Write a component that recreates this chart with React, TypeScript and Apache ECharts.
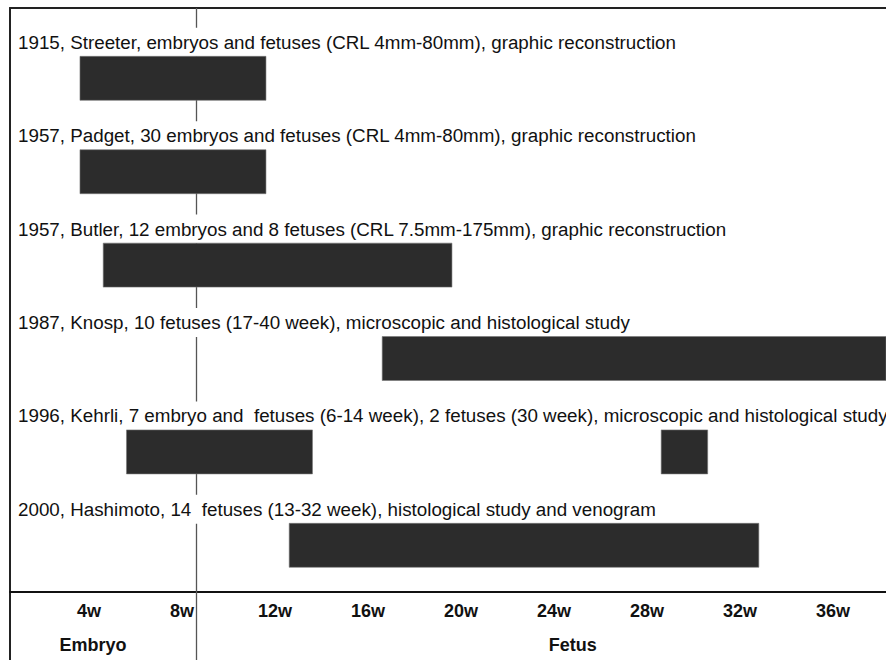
import React, { useEffect, useRef } from "react";
import * as echarts from "echarts";

// Study labels, top to bottom
const studyLabels: string[] = [
  "1915, Streeter, embryos and fetuses (CRL 4mm-80mm), graphic reconstruction",
  "1957, Padget, 30 embryos and fetuses (CRL 4mm-80mm), graphic reconstruction",
  "1957, Butler, 12 embryos and 8 fetuses (CRL 7.5mm-175mm), graphic reconstruction",
  "1987, Knosp, 10 fetuses (17-40 week), microscopic and histological study",
  "1996, Kehrli, 7 embryo and  fetuses (6-14 week), 2 fetuses (30 week), microscopic and histological study",
  "2000, Hashimoto, 14  fetuses (13-32 week), histological study and venogram",
];

// Bars: study row index, start week, end week
const barRows: number[] = [0, 1, 2, 3, 4, 4, 5];
const barStarts: number[] = [4, 4, 5, 17, 6, 29, 13];
const barEnds: number[] = [12, 12, 20, 40, 14, 31, 33.2];

// Axis ticks (weeks)
const tickWeeks: number[] = [4, 8, 12, 16, 20, 24, 28, 32, 36];
const dividerWeek = 9;

// Period labels
const periodNames: string[] = ["Embryo", "Fetus"];
const periodWeeks: number[] = [4.56, 25.2];

const FONT = "'Liberation Sans', Arial, Helvetica, sans-serif";
const nRows = studyLabels.length;
const rowY = (i: number) => nRows - 0.5 - i;
const X_MIN = 0.99;
const X_MAX = 38.67;

export default function App() {
  const ref = useRef<HTMLDivElement>(null);
  useEffect(() => {
    if (!ref.current) return;
    const chart = echarts.init(ref.current, undefined, { renderer: "svg" });
    const barData = barRows.map((r, i) => [barStarts[i], barEnds[i], rowY(r)]);
    const labelData = studyLabels.map((t, i) => [1, rowY(i), t]);
    const periodData = periodNames.map((t, i) => [periodWeeks[i], -0.567, t]);

    chart.setOption({
      animation: false,
      backgroundColor: "#ffffff",
      grid: {
        left: 10,
        right: 0,
        top: 8,
        bottom: 0,
        show: false,
        containLabel: false,
        outerBoundsMode: "none",
      },
      xAxis: [
        {
          type: "value",
          position: "bottom",
          offset: -68,
          min: X_MIN,
          max: X_MAX,
          axisLine: { show: true, onZero: false, lineStyle: { color: "#111", width: 2 } },
          axisTick: { show: false },
          splitLine: { show: false },
          axisLabel: {
            customValues: tickWeeks,
            formatter: (v: number) => `${v}w`,
            color: "#111",
            fontWeight: "bold",
            fontSize: 18,
            fontFamily: FONT,
            margin: 10,
            padding: [0, 0, 0, 18],
          },
        },
        {
          type: "value",
          position: "top",
          min: X_MIN,
          max: X_MAX,
          axisLine: { show: true, onZero: false, lineStyle: { color: "#222", width: 2 } },
          axisTick: { show: false },
          axisLabel: { show: false },
          splitLine: { show: false },
        },
      ],
      yAxis: {
        type: "value",
        min: -0.728,
        max: 6.253,
        axisLine: { show: true, onZero: false, lineStyle: { color: "#222", width: 2 } },
        axisTick: { show: false },
        axisLabel: { show: false },
        splitLine: { show: false },
      },
      series: [
        {
          type: "line",
          data: [],
          z: 1,
          silent: true,
          markLine: {
            silent: true,
            z: 1,
            symbol: "none",
            label: { show: false },
            lineStyle: { color: "#555", width: 1.3, type: "solid" },
            data: [{ xAxis: dividerWeek }],
          },
        },
        {
          type: "custom",
          z: 3,
          silent: true,
          data: barData,
          renderItem: (params: any, api: any) => {
            const p0 = api.coord([api.value(0), api.value(2)]);
            const p1 = api.coord([api.value(1), api.value(2)]);
            const h = api.size([0, 0.471])[1];
            const cs = params.coordSys;
            const rect = echarts.graphic.clipRectByRect(
              { x: p0[0], y: p0[1] - h / 2, width: p1[0] - p0[0], height: h },
              { x: cs.x, y: cs.y, width: cs.width, height: cs.height }
            );
            if (!rect) return null;
            return {
              type: "rect",
              shape: rect,
              style: { fill: "#2c2c2c", stroke: "#777", lineWidth: 0.6 },
            };
          },
        },
        {
          type: "custom",
          z: 2,
          silent: true,
          data: labelData,
          encode: { x: 0, y: 1 },
          renderItem: (params: any, api: any) => {
            const p = api.coord([api.value(0), api.value(1)]);
            const cs = params.coordSys;
            return {
              type: "text",
              style: {
                text: studyLabels[params.dataIndex],
                x: cs.x + 8,
                y: p[1] - 36,
                fill: "#111",
                font: `18.8px ${FONT}`,
                align: "left",
                verticalAlign: "middle",
                backgroundColor: "#fff",
                padding: [5, 0, 5, 0],
              },
            };
          },
        },
        {
          type: "custom",
          z: 4,
          silent: true,
          data: periodData,
          encode: { x: 0, y: 1 },
          renderItem: (params: any, api: any) => {
            const p = api.coord([api.value(0), api.value(1)]);
            return {
              type: "text",
              style: {
                text: periodNames[params.dataIndex],
                x: p[0],
                y: p[1],
                fill: "#111",
                font: `bold 18px ${FONT}`,
                align: "center",
                verticalAlign: "middle",
              },
            };
          },
        },
      ],
    });
    return () => chart.dispose();
  }, []);
  return (
    <div
      ref={ref}
      style={{ position: "fixed", left: 0, top: 0, width: 886, height: 660, background: "#fff" }}
    />
  );
}
